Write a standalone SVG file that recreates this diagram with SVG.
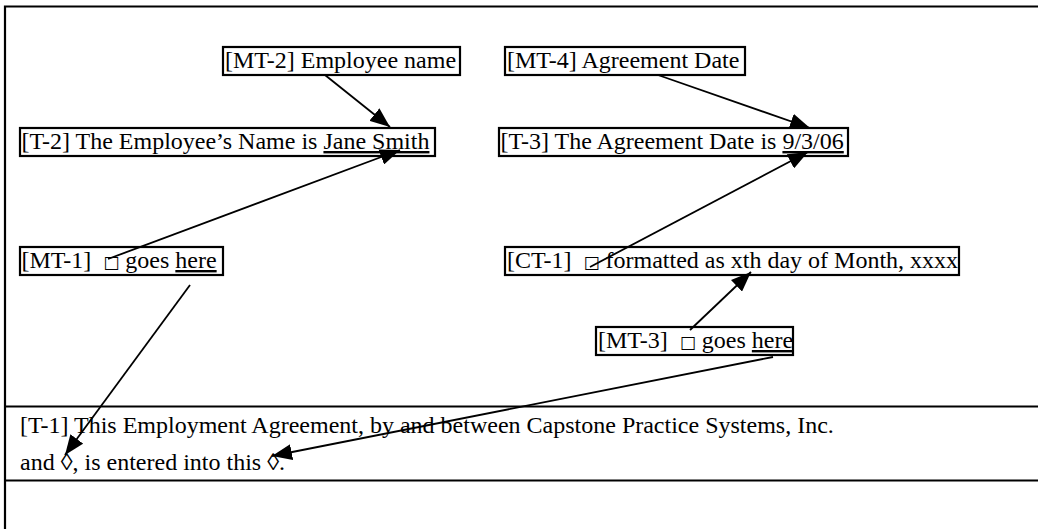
<svg xmlns="http://www.w3.org/2000/svg" width="1038" height="529" viewBox="0 0 1038 529">
<defs>
<marker id="ah" markerUnits="userSpaceOnUse" markerWidth="22" markerHeight="16" refX="20" refY="8" orient="auto">
<path d="M0,0 L20,8 L0,16 Z" fill="#000"/>
</marker>
<style>
text{font-family:"Liberation Serif","Times New Roman",serif;font-size:24px;fill:#000;white-space:pre}
.box{fill:#fff;stroke:#000;stroke-width:2.2}
.frame{stroke:#000;stroke-width:2.2;fill:none}
.conn line{stroke:#000;stroke-width:1.8;marker-end:url(#ah)}
.sq{font-size:17px;font-family:"DejaVu Sans",sans-serif}
.u{text-decoration:underline}
</style>
</defs>
<rect width="1038" height="529" fill="#fff"/>
<g id="frame">
<path class="frame" d="M5,529 V6.5 H1038"/>
<line class="frame" x1="5" y1="406.5" x2="1038" y2="406.5"/>
<line class="frame" x1="5" y1="480.5" x2="1038" y2="480.5"/>
</g>
<g id="T-1">
<text x="20" y="433">[T-1] This Employment Agreement, by and between Capstone Practice Systems, Inc.</text>
<text x="20" y="470">and ◊, is entered into this ◊.</text>
</g>
<g id="MT-2">
<rect class="box" x="223" y="47" width="237" height="28"/>
<text x="225" y="68">[MT-2] Employee name</text>
</g>
<g id="MT-4">
<rect class="box" x="505" y="47" width="240" height="28"/>
<text x="507" y="68">[MT-4] Agreement Date</text>
</g>
<g id="T-2">
<rect class="box" x="20" y="128" width="415" height="28"/>
<text x="21.5" y="149">[T-2] The Employee’s Name is <tspan class="u">Jane Smith</tspan></text>
</g>
<g id="T-3">
<rect class="box" x="499" y="128" width="349" height="28"/>
<text x="500.5" y="149">[T-3] The Agreement Date is <tspan class="u">9/3/06</tspan></text>
</g>
<g id="MT-1">
<rect class="box" x="20" y="247" width="203" height="28"/>
<text x="21.5" y="268">[MT-1]  <tspan class="sq">□</tspan> goes <tspan class="u">here</tspan></text>
</g>
<g id="CT-1">
<rect class="box" x="505" y="247" width="454" height="28"/>
<text x="507" y="268">[CT-1]  <tspan class="sq">□</tspan> formatted as xth day of Month, xxxx</text>
</g>
<g id="MT-3">
<rect class="box" x="596" y="327" width="197" height="28"/>
<text x="598" y="348">[MT-3]  <tspan class="sq">□</tspan> goes <tspan class="u">here</tspan></text>
</g>
<g class="conn" id="connectors">
<line x1="325" y1="75" x2="390" y2="127"/>
<line x1="108" y1="259" x2="400" y2="150"/>
<line x1="658" y1="75" x2="810" y2="128"/>
<line x1="590" y1="267" x2="808" y2="152"/>
<line x1="690" y1="330" x2="751" y2="272"/>
<line x1="190" y1="285" x2="65" y2="455"/>
<line x1="773" y1="357" x2="272" y2="456"/>
</g>
</svg>
